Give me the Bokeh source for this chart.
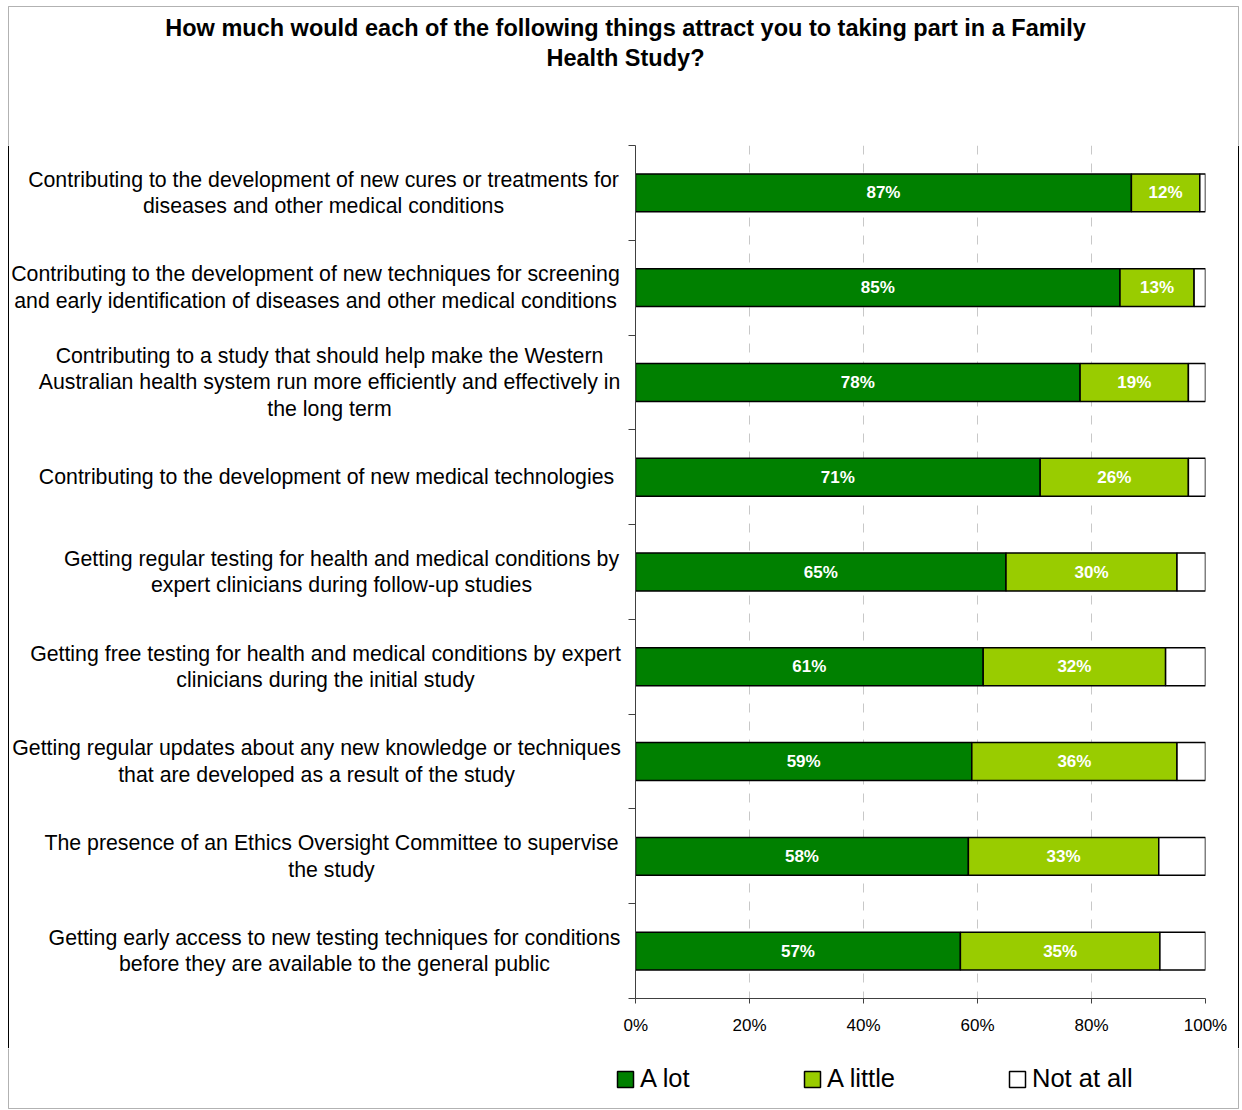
from bokeh.plotting import figure
from bokeh.layouts import column, row
from bokeh.models import (Range1d, FixedTicker, Legend, LegendItem,
                          ColumnDataSource, BoxAnnotation, Span)
from bokeh.core.properties import value
from bokeh.embed import file_html
from bokeh.resources import INLINE

# ---------------- data ----------------
categories = [
    "Contributing to the development of new cures or treatments for\ndiseases and other medical conditions",
    "Contributing to the development of new techniques for screening\nand early identification of diseases and other medical conditions",
    "Contributing to a study that should help make the Western\nAustralian health system run more efficiently and effectively in\nthe long term",
    "Contributing to the development of new medical technologies",
    "Getting regular testing for health and medical conditions by\nexpert clinicians during follow-up studies",
    "Getting free testing for health and medical conditions by expert\nclinicians during the initial study",
    "Getting regular updates about any new knowledge or techniques\nthat are developed as a result of the study",
    "The presence of an Ethics Oversight Committee to supervise\nthe study",
    "Getting early access to new testing techniques for conditions\nbefore they are available to the general public",
]
a_lot = [87, 85, 78, 71, 65, 61, 59, 58.4, 57]
a_little = [12, 13, 19, 26, 30, 32, 36, 33.4, 35]
not_at_all = [1, 2, 3, 3, 5, 7, 5, 8.2, 8]
series_names = ["A lot", "A little", "Not at all"]
series_colors = ["#008000", "#99cc00", "white"]
x_ticks = [0, 20, 40, 60, 80, 100]
title_lines = ["How much would each of the following things attract you to taking part in a Family",
               "Health Study?"]

# ---------------- layout constants (pixels) ----------------
W, H = 1242, 1110
TITLE_H = 145
FRAME_H = 853
BOTTOM_B = 50
ROW_H = FRAME_H + BOTTOM_B
LEG_H = H - TITLE_H - ROW_H
LAB_W = 623
MAIN_BL, MAIN_FW, MAIN_BR = 12, 570, 25
MAIN_W = MAIN_BL + MAIN_FW + MAIN_BR
RIGHT_W = W - LAB_W - MAIN_W
label_centers = [323, 315, 329, 326, 341, 325, 316, 331, 334]
legend_x = [615, 802, 1007]
FONT = "Liberation Sans"
AXIS_C = "#404040"

n = len(categories)
ys = [i + 0.5 for i in range(n)]
right1 = a_lot
right2 = [a + b for a, b in zip(a_lot, a_little)]
right3 = [a + b + c for a, b, c in zip(a_lot, a_little, not_at_all)]

src = ColumnDataSource(dict(
    y=ys, l1=[0] * n, r1=right1, l2=right1, r2=right2, l3=right2, r3=right3,
    m1=[v / 2 for v in right1],
    m2=[(a + b) / 2 for a, b in zip(right1, right2)],
    t1=[f"{round(v)}%" for v in a_lot],
    t2=[f"{round(v)}%" for v in a_little],
))


def bare(width, height, x_range, y_range):
    f = figure(width=width, height=height, output_backend="svg", toolbar_location=None,
               x_range=x_range, y_range=y_range, x_axis_type=None, y_axis_type=None,
               min_border=0)
    f.outline_line_color = None
    f.grid.grid_line_color = None
    if "frame_align" in f.properties():
        f.frame_align = False
    return f


def border(f, **kw):
    f.add_layout(BoxAnnotation(fill_alpha=0, line_color="black", line_width=1, **kw))


# ---------------- title ----------------
pt = bare(W, TITLE_H, Range1d(0, W), Range1d(TITLE_H, 0))
pt.text(x=[625, 625], y=[27, 57], text=title_lines, text_font=value(FONT),
        text_font_style="bold", text_font_size="23.5px", text_color="black",
        text_align="center", text_baseline="middle")
border(pt, left=8, right=1238, top=6, bottom=TITLE_H + 20)

# ---------------- category labels ----------------
yr_lab = Range1d(n * ROW_H / FRAME_H, 0)
pl = bare(LAB_W, ROW_H, Range1d(0, LAB_W), yr_lab)
pl.text(x=label_centers, y=ys, text=categories, text_font=value(FONT),
        text_font_size="21.3px", text_color="black", text_align="center",
        text_baseline="middle", text_line_height=1.1)
pl.add_layout(Span(location=8, dimension="height", line_color="black", line_width=1))

# ---------------- main chart ----------------
p = figure(width=MAIN_W, height=ROW_H, output_backend="svg", toolbar_location=None,
           x_range=Range1d(0, 100), y_range=Range1d(n, 0),
           min_border_left=MAIN_BL, min_border_right=MAIN_BR,
           min_border_top=0, min_border_bottom=BOTTOM_B)
p.outline_line_color = None
p.xgrid.ticker = FixedTicker(ticks=x_ticks[1:])
p.xgrid.grid_line_color = "#c8c8c8"
p.xgrid.grid_line_dash = "9 9"
p.ygrid.grid_line_color = None

p.xaxis.ticker = FixedTicker(ticks=x_ticks)
p.xaxis.major_label_overrides = {t: f"{t}%" for t in x_ticks}
p.xaxis.major_label_text_font = FONT
p.xaxis.major_label_text_font_size = "17px"
p.xaxis.major_label_text_color = "black"
p.xaxis.major_label_standoff = 12
p.xaxis.major_tick_out = 5
p.xaxis.major_tick_in = 0
p.xaxis.minor_tick_line_color = None
p.xaxis.axis_line_color = AXIS_C
p.xaxis.major_tick_line_color = AXIS_C

p.yaxis.ticker = FixedTicker(ticks=list(range(n + 1)))
p.yaxis.major_label_overrides = {i: "" for i in range(n + 1)}
p.yaxis.major_label_standoff = 0
p.yaxis.major_tick_out = 7
p.yaxis.major_tick_in = 0
p.yaxis.minor_tick_line_color = None
p.yaxis.axis_line_color = AXIS_C
p.yaxis.major_tick_line_color = AXIS_C

for (lc, rc), col in zip((("l1", "r1"), ("l2", "r2"), ("l3", "r3")), series_colors):
    p.hbar(y="y", left=lc, right=rc, height=0.4, source=src,
           fill_color=col, line_color="black", line_width=1.5)

for mc, tc in (("m1", "t1"), ("m2", "t2")):
    p.text(x=mc, y="y", text=tc, source=src, text_color="white",
           text_font=value(FONT), text_font_style="bold",
           text_font_size="17px", text_align="center", text_baseline="middle")

# ---------------- right edge (outer border) ----------------
pr = bare(RIGHT_W, ROW_H, Range1d(0, RIGHT_W), Range1d(ROW_H, 0))
pr.add_layout(Span(location=1238 - (LAB_W + MAIN_W), dimension="height",
                   line_color="black", line_width=1))

# ---------------- legend ----------------
pg = bare(W, LEG_H, Range1d(0, W), Range1d(LEG_H, 0))
for name, col, lx, lc in zip(series_names, series_colors, legend_x, ("l1", "l2", "l3")):
    # zero-size proxy bars: only their legend swatch is visible
    r = pg.hbar(y="y", left=lc, right=lc, height=0, source=src,
                fill_color=col, line_color="black", line_width=1.5)
    lg = Legend(items=[LegendItem(label=name, renderers=[r])],
                location=(lx, 17), glyph_width=20, glyph_height=20,
                label_standoff=5, label_text_font=FONT,
                label_text_font_size="25.5px", label_text_color="black",
                padding=0, margin=0, spacing=0, border_line_color=None,
                background_fill_alpha=0)
    pg.add_layout(lg, "center")
border(pg, left=8, right=1238, top=-20, bottom=1108 - (TITLE_H + ROW_H))

layout = column(pt, row(pl, p, pr, spacing=0), pg, spacing=0)
open("out.html", "w").write(file_html(layout, INLINE))
